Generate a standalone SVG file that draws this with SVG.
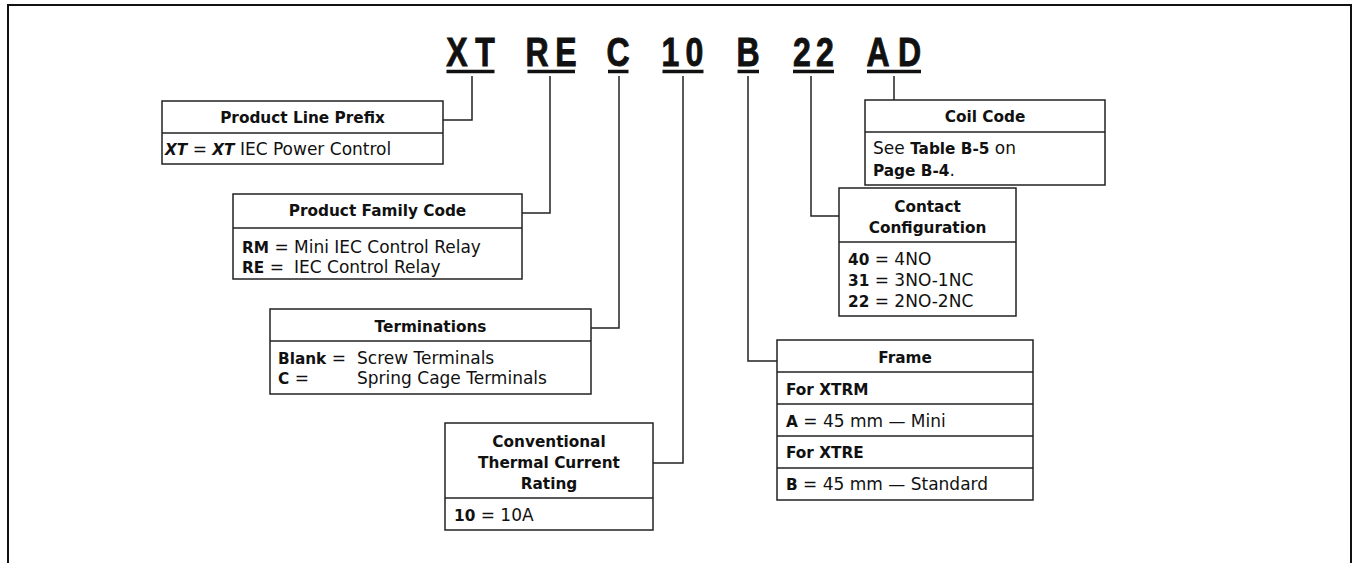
<svg xmlns="http://www.w3.org/2000/svg" width="1356" height="563" viewBox="0 0 1356 563">
<style>
.frame{fill:none;stroke:#111;stroke-width:2}
.box{fill:#fff;stroke:#222;stroke-width:1.5}
.dv{stroke:#222;stroke-width:1.5}
.con{fill:none;stroke:#222;stroke-width:1.5}
.ul{stroke:#111;stroke-width:3.5}
.code{font-family:"Liberation Sans",Arial,sans-serif;font-weight:bold;font-size:40px;fill:#111;stroke:#111;stroke-width:0.9;text-anchor:middle}
.h{font-family:"DejaVu Sans",sans-serif;font-weight:bold;font-size:15.3px;text-anchor:middle;fill:#111}
.t{font-family:"DejaVu Sans",sans-serif;font-size:17px;fill:#111}
.b{font-weight:bold;font-size:15.3px}
.bi{font-weight:bold;font-style:italic;font-size:15.3px}
</style>
<rect width="1356" height="563" fill="#fff"/>
<path class="frame" d="M8,563 V5 H1351 V563"/>

<g id="code">
<text class="code" transform="translate(457,66) scale(0.8,1)">X</text>
<text class="code" transform="translate(485,66) scale(0.8,1)">T</text>
<text class="code" transform="translate(537,66) scale(0.8,1)">R</text>
<text class="code" transform="translate(566,66) scale(0.8,1)">E</text>
<text class="code" transform="translate(618,66) scale(0.8,1)">C</text>
<text class="code" transform="translate(670.5,66) scale(0.8,1)">1</text>
<text class="code" transform="translate(694.5,66) scale(0.8,1)">0</text>
<text class="code" transform="translate(748,66) scale(0.8,1)">B</text>
<text class="code" transform="translate(802,66) scale(0.8,1)">2</text>
<text class="code" transform="translate(825,66) scale(0.8,1)">2</text>
<text class="code" transform="translate(878,66) scale(0.8,1)">A</text>
<text class="code" transform="translate(909.5,66) scale(0.8,1)">D</text>
<line class="ul" x1="446.5" y1="71.5" x2="494.5" y2="71.5"/>
<line class="ul" x1="527.5" y1="71.5" x2="575" y2="71.5"/>
<line class="ul" x1="608" y1="71.5" x2="628.5" y2="71.5"/>
<line class="ul" x1="662.5" y1="71.5" x2="703.5" y2="71.5"/>
<line class="ul" x1="737.5" y1="71.5" x2="759" y2="71.5"/>
<line class="ul" x1="793" y1="71.5" x2="834" y2="71.5"/>
<line class="ul" x1="867" y1="71.5" x2="921" y2="71.5"/>
</g>

<g id="connectors">
<path class="con" d="M472,76 V120 H443"/>
<path class="con" d="M550,76 V213 H522"/>
<path class="con" d="M619,76 V328 H591"/>
<path class="con" d="M683,76 V463 H653"/>
<path class="con" d="M748,76 V361 H777"/>
<path class="con" d="M811,76 V216 H839"/>
<path class="con" d="M894,76 V100"/>
</g>

<g id="prefix">
<rect class="box" x="162" y="101" width="281" height="63"/>
<line class="dv" x1="162" y1="133" x2="443" y2="133"/>
<text class="h" x="302.5" y="123">Product Line Prefix</text>
<text class="t" x="165" y="155"><tspan class="bi">XT</tspan> = <tspan class="bi">XT</tspan> IEC Power Control</text>
</g>

<g id="family">
<rect class="box" x="233" y="194" width="289" height="85"/>
<line class="dv" x1="233" y1="228" x2="522" y2="228"/>
<text class="h" x="377.5" y="216">Product Family Code</text>
<text class="t" x="242" y="253"><tspan class="b">RM</tspan> = <tspan x="294">Mini IEC Control Relay</tspan></text>
<text class="t" x="242" y="273"><tspan class="b">RE</tspan> = <tspan x="294">IEC Control Relay</tspan></text>
</g>

<g id="terminations">
<rect class="box" x="270" y="309" width="321" height="85"/>
<line class="dv" x1="270" y1="341" x2="591" y2="341"/>
<text class="h" x="430.5" y="332">Terminations</text>
<text class="t" x="278" y="364"><tspan class="b">Blank</tspan> = <tspan x="357">Screw Terminals</tspan></text>
<text class="t" x="278" y="384"><tspan class="b">C</tspan> = <tspan x="357">Spring Cage Terminals</tspan></text>
</g>

<g id="rating">
<rect class="box" x="445" y="423" width="208" height="107"/>
<line class="dv" x1="445" y1="498" x2="653" y2="498"/>
<text class="h" x="549" y="447">Conventional</text>
<text class="h" x="549" y="468">Thermal Current</text>
<text class="h" x="549" y="489">Rating</text>
<text class="t" x="454" y="521"><tspan class="b">10</tspan> = 10A</text>
</g>

<g id="coil">
<rect class="box" x="865" y="100" width="240" height="85"/>
<line class="dv" x1="865" y1="132" x2="1105" y2="132"/>
<text class="h" x="985" y="122">Coil Code</text>
<text class="t" x="873" y="154">See <tspan class="b">Table B-5</tspan> on</text>
<text class="t" x="873" y="176"><tspan class="b">Page B-4</tspan>.</text>
</g>

<g id="contact">
<rect class="box" x="839" y="188" width="177" height="128"/>
<line class="dv" x1="839" y1="242" x2="1016" y2="242"/>
<text class="h" x="927.5" y="211.5">Contact</text>
<text class="h" x="927.5" y="232.5">Configuration</text>
<text class="t" x="848" y="265"><tspan class="b">40</tspan> = 4NO</text>
<text class="t" x="848" y="286"><tspan class="b">31</tspan> = 3NO-1NC</text>
<text class="t" x="848" y="307"><tspan class="b">22</tspan> = 2NO-2NC</text>
</g>

<g id="frame-box">
<rect class="box" x="777" y="340" width="256" height="160"/>
<line class="dv" x1="777" y1="372" x2="1033" y2="372"/>
<line class="dv" x1="777" y1="404" x2="1033" y2="404"/>
<line class="dv" x1="777" y1="436" x2="1033" y2="436"/>
<line class="dv" x1="777" y1="468" x2="1033" y2="468"/>
<text class="h" x="905" y="362.5">Frame</text>
<text class="t b" x="786" y="394.5">For XTRM</text>
<text class="t" x="786" y="426.5"><tspan class="b">A</tspan> = 45 mm — Mini</text>
<text class="t b" x="786" y="458">For XTRE</text>
<text class="t" x="786" y="490"><tspan class="b">B</tspan> = 45 mm — Standard</text>
</g>
</svg>
